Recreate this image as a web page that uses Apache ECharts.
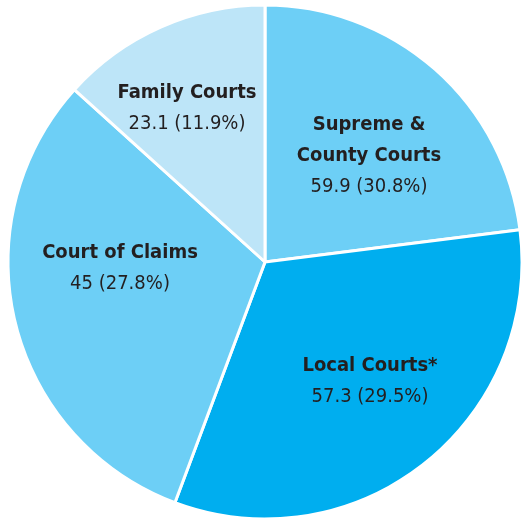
<!DOCTYPE html>
<html>
<head>
<meta charset="utf-8">
<script src="https://cdn.jsdelivr.net/npm/echarts@6/dist/echarts.min.js"></script>
<style>
html,body{margin:0;padding:0;background:#fff;}
#c{width:521px;height:522px;}
</style>
</head>
<body>
<div id="c"></div>
<script>
// ---- data ----
const categories = ['Supreme &\nCounty Courts', 'Local Courts*', 'Court of Claims', 'Family Courts'];
const values = ['59.9', '57.3', '45', '23.1'];
const percents = ['30.8', '29.5', '27.8', '11.9'];
// slice sizes as drawn in the picture (share of the circle, %)
const sliceShares = [23.0, 32.7, 31.0, 13.3];
const colors = ['#6dcff6', '#00aeef', '#6dcff6', '#bde5f8'];

// ---- layout ----
const labelCenters = [[369, 156], [370, 381], [120, 268], [187, 108]];
const FONT = '"DejaVu Sans Condensed", "Liberation Sans Narrow", sans-serif';

const chart = echarts.init(document.getElementById('c'), null, {renderer: 'canvas'});
const data = categories.map((c, i) => ({
  name: c,
  value: sliceShares[i],
  itemStyle: {color: colors[i]}
}));

chart.setOption({
  animation: false,
  series: [{
    type: 'pie',
    center: [265, 262],
    radius: [0, 257],
    startAngle: 90,
    clockwise: true,
    avoidLabelOverlap: false,
    silent: true,
    itemStyle: {borderColor: '#ffffff', borderWidth: 3},
    label: {
      show: true,
      position: 'inside',
      formatter: p => '{b|' + p.name.split('\n').join('}\n{b|') + '}\n{v|' + values[p.dataIndex] + ' (' + percents[p.dataIndex] + '%)}',
      rich: {
        b: {fontFamily: FONT, fontWeight: 'bold', fontSize: 20, color: '#231f20', lineHeight: 31, align: 'center'},
        v: {fontFamily: FONT, fontWeight: 'normal', fontSize: 20, color: '#231f20', lineHeight: 31, align: 'center'}
      }
    },
    labelLine: {show: false},
    labelLayout: p => ({
      x: labelCenters[p.dataIndex][0],
      y: labelCenters[p.dataIndex][1],
      align: 'center',
      verticalAlign: 'middle'
    }),
    data: data
  }]
});
</script>
</body>
</html>
